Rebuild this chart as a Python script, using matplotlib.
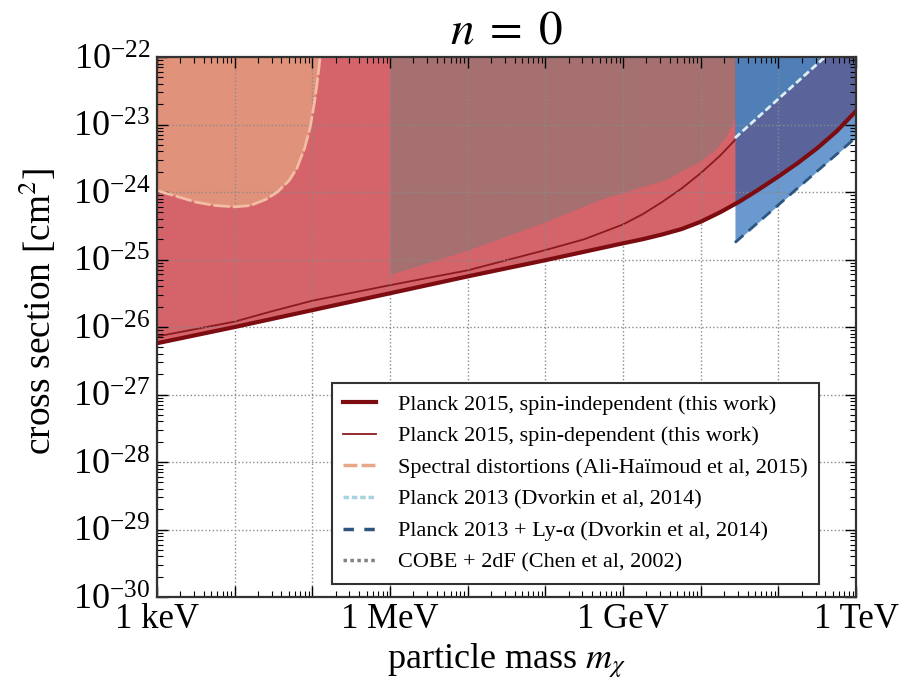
import numpy as np
import matplotlib
matplotlib.use("Agg")
import matplotlib.pyplot as plt
from matplotlib.lines import Line2D
from matplotlib.ticker import FixedLocator, FixedFormatter, LogLocator, NullFormatter

plt.rcParams["font.family"] = "serif"
plt.rcParams["font.serif"] = ["Liberation Serif", "DejaVu Serif"]
plt.rcParams["mathtext.fontset"] = "stix"

# all masses in log10(m / GeV), cross sections in log10(sigma / cm^2)

# Planck 2015, spin-independent
si_logm = [-6, -5, -4, -3, -2, -1, 0, 0.25, 0.5, 0.75, 1, 1.25, 1.5, 1.75,
           2, 2.25, 2.5, 2.75, 3]
si_logsig = [-26.24, -26.00, -25.75, -25.50, -25.25, -25.01, -24.76, -24.70,
             -24.63, -24.55, -24.44, -24.30, -24.14, -23.96, -23.77, -23.57,
             -23.35, -23.10, -22.80]

# Planck 2015, spin-dependent
sd_logm = [-6, -5, -4.5, -4, -3, -2, -1, -0.5, 0, 0.25, 0.5, 0.75, 1, 1.25, 1.44]
sd_logsig = [-26.14, -25.92, -25.76, -25.61, -25.38, -25.16, -24.86, -24.70,
             -24.48, -24.33, -24.15, -23.95, -23.72, -23.46, -23.23]

# spectral distortions (Ali-Haimoud et al 2015)
cmb_logm = [-6, -5.85, -5.7, -5.5, -5.25, -5.0, -4.8, -4.6, -4.45, -4.3,
            -4.2, -4.1, -4.03, -3.97, -3.93, -3.90]
cmb_logsig = [-23.98, -24.03, -24.08, -24.15, -24.20, -24.22, -24.20, -24.11,
              -24.00, -23.83, -23.65, -23.35, -23.05, -22.65, -22.30, -22.0]

# COBE + 2dF (Chen et al 2002)
cobe_logm = [-3, -2, -1, -0.32, 0.10, 0.54, 0.96, 1.18, 1.32, 1.44]
cobe_logsig = [-25.22, -24.86, -24.44, -24.12, -23.97, -23.82, -23.56, -23.38,
               -23.18, -22.90]

# Planck 2013 (Dvorkin et al 2014)
p13_logm = [1.44, 2.0, 2.6, 3.0]
p13_logsig = [-23.20, -22.62, -22.00, -21.59]

# Planck 2013 + Ly-alpha (Dvorkin et al 2014)
lya_logm = [1.44, 2.0, 2.5, 3.0]
lya_logsig = [-24.75, -24.19, -23.69, -23.19]

xtick_logm = [-6, -5, -4, -3, -2, -1, 0, 1, 2, 3]
xtick_labels = ["1 keV", "", "", "1 MeV", "", "", "1 GeV", "", "", "1 TeV"]

legend_labels = [
    "Planck 2015, spin-independent (this work)",
    "Planck 2015, spin-dependent (this work)",
    "Spectral distortions (Ali-Haïmoud et al, 2015)",
    "Planck 2013 (Dvorkin et al, 2014)",
    "Planck 2013 + Ly-α (Dvorkin et al, 2014)",
    "COBE + 2dF (Chen et al, 2002)",
]


def pw(vals):
    return 10.0 ** np.asarray(vals, dtype=float)


top = 1e-22

fig = plt.figure(figsize=(9.13, 6.81), dpi=100)
ax = fig.add_axes([0.172, 0.1233, 0.7657, 0.7930])
ax.set_xscale("log")
ax.set_yscale("log")

# shaded exclusion regions
ax.fill_between(pw(si_logm), pw(si_logsig), top, color="#d5636a", lw=0, zorder=1.0)
ax.fill_between(pw(cmb_logm), pw(cmb_logsig), top, color="#e1927b", lw=0, zorder=1.01)
ax.fill_between(pw(cobe_logm), pw(cobe_logsig), top, color="#a5706f", lw=0, zorder=1.01)

# thin spin-dependent curve sits under the blue regions
ax.plot(pw(sd_logm), pw(sd_logsig), color="#8a1a1e", lw=1.3, zorder=1.05)

ax.fill_between(pw(lya_logm), pw(lya_logsig), top, color="#1b65b6", alpha=0.66, lw=0, zorder=1.1)
ax.fill_between(pw(p13_logm), pw(p13_logsig), top, color="#4a92cc", alpha=0.6, lw=0, zorder=1.15)

# boundaries
ax.plot(pw(cmb_logm), pw(cmb_logsig), color="#f3bca4", lw=2, ls=(0, (6, 1)), zorder=2)
ax.plot(pw(p13_logm), pw(p13_logsig), color="#dcedf4", lw=2, ls=(0, (2.5, 1.2)), zorder=2)
ax.plot(pw(lya_logm), pw(lya_logsig), color="#2c5680", lw=2, ls=(0, (4, 2.5)), zorder=2)
ax.plot(pw(si_logm), pw(si_logsig), color="#7d0c10", lw=3, zorder=2.1)

ax.set_xlim(1e-6, 1e3)
ax.set_ylim(1e-30, 1e-22)

ax.xaxis.set_major_locator(FixedLocator(pw(xtick_logm)))
ax.xaxis.set_major_formatter(FixedFormatter(xtick_labels))
ax.xaxis.set_minor_locator(LogLocator(base=10, subs=np.arange(2, 10), numticks=40))
ax.xaxis.set_minor_formatter(NullFormatter())
ax.yaxis.set_major_locator(LogLocator(base=10, numticks=20))
ax.yaxis.set_minor_locator(LogLocator(base=10, subs=np.arange(2, 10), numticks=40))
ax.yaxis.set_minor_formatter(NullFormatter())

ax.tick_params(which="both", direction="in", top=True, right=True)
ax.tick_params(axis="x", labelsize=25, pad=4)
ax.tick_params(axis="y", labelsize=26, pad=5)
ax.tick_params(which="major", length=8, width=1.0)
ax.tick_params(which="minor", length=4, width=0.8)

ax.grid(True, which="major", linestyle=":", color="#8a8a8a", linewidth=1.0)
ax.set_axisbelow("line")

for s in ax.spines.values():
    s.set_linewidth(1.6)
    s.set_color("#333333")

ax.set_title("$n\\;=\\;0$", fontsize=34, pad=10)
ax.set_xlabel("particle mass $m_\\chi$", fontsize=26)
ax.set_ylabel("cross section [cm$^2$]", fontsize=27)
ax.yaxis.set_label_coords(-0.14, 0.53)

handles = [
    Line2D([], [], color="#7d0c10", lw=3),
    Line2D([], [], color="#8a1a1e", lw=1.3),
    Line2D([], [], color="#e8a888", lw=2.5, ls=(0, (4, 1.2))),
    Line2D([], [], color="#a9d3e0", lw=2.5, ls=(0, (1.6, 0.8))),
    Line2D([], [], color="#2c5680", lw=2.5, ls=(0, (3, 3))),
    Line2D([], [], color="#808080", lw=2.5, ls=(0, (1, 1))),
]
leg = ax.legend(handles, legend_labels, loc="lower right", bbox_to_anchor=(0.947, 0.024),
                borderaxespad=0, fontsize=16, handlelength=1.5, handletextpad=1.0,
                labelspacing=0.5, borderpad=0.5, fancybox=False, framealpha=1,
                edgecolor="#333333")
leg.get_frame().set_linewidth(1.5)
leg.set_zorder(5)

fig.savefig("out.png", dpi=100)
